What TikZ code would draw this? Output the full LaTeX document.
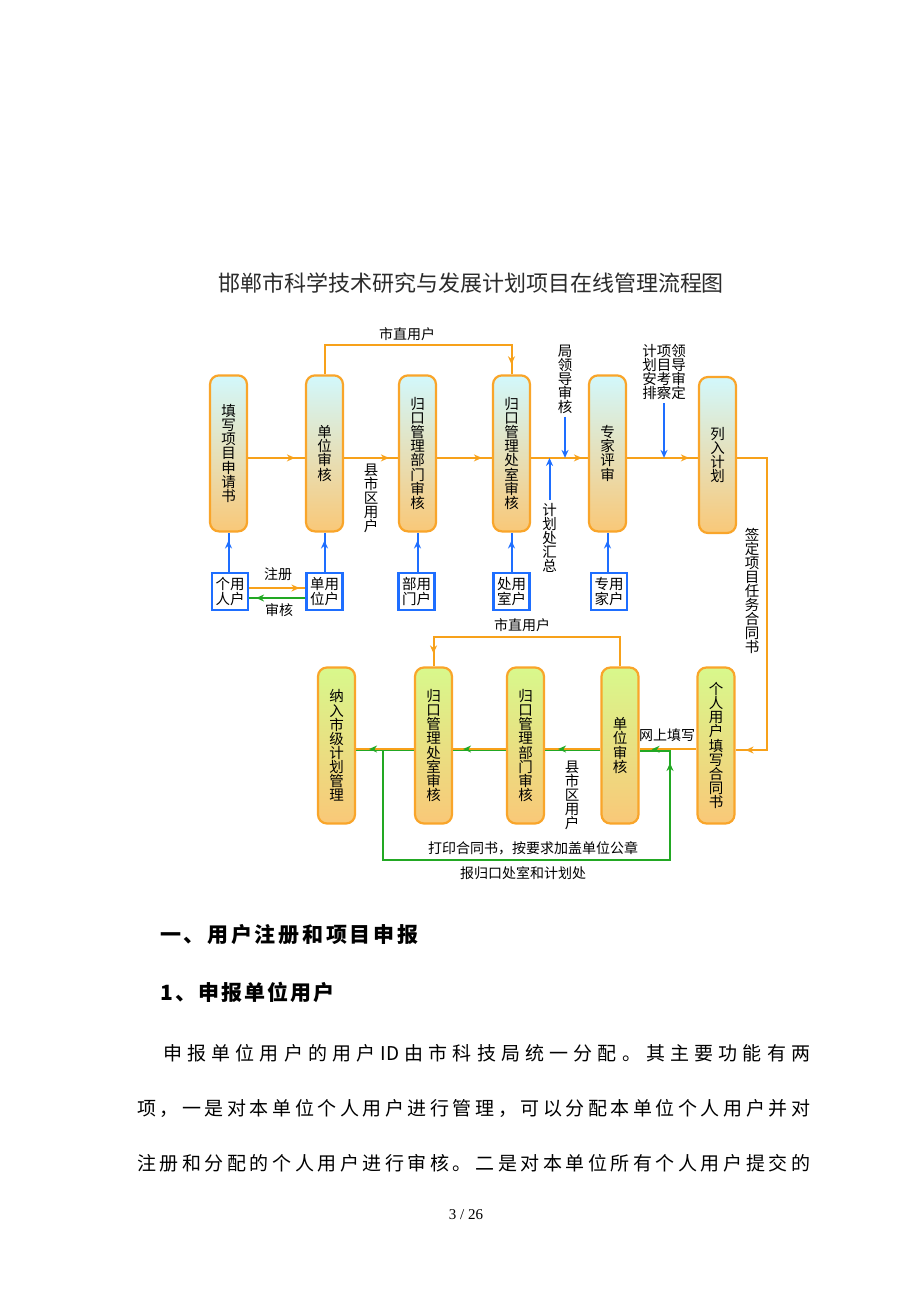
\documentclass[tikz,border=0pt]{standalone}
\usepackage{fontspec}
\setmainfont{Noto Sans CJK SC}
\newfontfamily\serifl{Liberation Serif}
\usetikzlibrary{decorations.markings,arrows.meta,calc}
\definecolor{orn}{HTML}{F7A11A}
\definecolor{bord}{HTML}{F9A52A}
\definecolor{cyl}{HTML}{D2F8FC}
\definecolor{orl}{HTML}{F9C878}
\definecolor{gyl}{HTML}{D8F88C}
\definecolor{blu}{HTML}{1E6EFF}
\definecolor{grn}{HTML}{22A823}
\definecolor{titleg}{HTML}{2B2B2B}
\makeatletter
\newcommand\spreadtext[2]{\hbox to #1{\let\sp@sep\relax\@tfor\sp@c:=#2\do{\sp@sep\sp@c\def\sp@sep{\hfil}}}}
\makeatother
\begin{document}
\begin{tikzpicture}[x=1pt,y=-1pt,
  topbox/.style={rectangle, rounded corners=9pt, draw=bord, line width=2.2pt, top color=cyl, bottom color=orl, minimum width=37pt, minimum height=156pt, inner sep=0pt, align=center, font=\fontsize{14.5}{14.1}\selectfont},
  botbox/.style={topbox, top color=gyl, bottom color=orl},
  ubox/.style={draw=blu, line width=2.2pt, fill=white, minimum width=36pt, minimum height=37pt, inner sep=0pt, align=center, font=\fontsize{14.5}{15}\selectfont},
  lbl/.style={inner sep=0pt, font=\fontsize{14}{14}\selectfont},
  vlbl/.style={inner sep=0pt, align=center, font=\fontsize{14.5}{14}\selectfont},
  oline/.style={draw=orn, line width=2pt},
  bline/.style={draw=blu, line width=2pt},
  gline/.style={draw=grn, line width=2pt},
  arrat/.style={postaction={decorate}, decoration={markings, mark=at position #1 with {\arrow{Stealth[length=8pt,width=7pt]}}}},
  garrat/.style={postaction={decorate}, decoration={markings, mark=at position #1 with {\arrow[color=grn]{Stealth[length=8pt,width=7pt]}}}},
  btip/.style={-{Stealth[length=8pt,width=7pt]}}
]
\fill[white] (0,0) rectangle (920,1302);
\useasboundingbox (0,0) rectangle (920,1302);

% title
\node[font=\fontsize{22}{24}\selectfont, text=titleg, inner sep=0pt] (title) at (471,283) {邯郸市科学技术研究与发展计划项目在线管理流程图};

% top row
\node[topbox] (b1) at (228.5,453.4) {填\\写\\项\\目\\申\\请\\书};
\node[topbox] (b2) at (324.5,453.4) {单\\位\\审\\核};
\node[topbox] (b3) at (417.5,453.4) {归\\口\\管\\理\\部\\门\\审\\核};
\node[topbox] (b4) at (511.5,453.4) {归\\口\\管\\理\\处\\室\\审\\核};
\node[topbox] (b5) at (607.5,453.4) {专\\家\\评\\审};
\node[topbox] (b6) at (717.5,455) {列\\入\\计\\划};

% user boxes
\node[ubox] (u1) at (230,591.5) {个用\\人户};
\node[ubox] (u2) at (324.5,591.5) {单用\\位户};
\node[ubox] (u3) at (416.5,591.5) {部用\\门户};
\node[ubox] (u4) at (511.5,591.5) {处用\\室户};
\node[ubox] (u5) at (609,591.5) {专用\\家户};

\draw[bline, arrat=-8pt] (b1.south |- u1.north) -- (b1.south);
\draw[bline, arrat=-8pt] (b2.south |- u2.north) -- (b2.south);
\draw[bline, arrat=-8pt] (b3.south |- u3.north) -- (b3.south);
\draw[bline, arrat=-8pt] (b4.south |- u4.north) -- (b4.south);
\draw[bline, arrat=-8pt] (b5.south |- u5.north) -- (b5.south);

\draw[oline, arrat=-6pt] ([yshift=3.5pt]u1.east) -- ([yshift=3.5pt]u2.west);
\draw[gline, arrat=-7pt] ([yshift=-6.5pt]u2.west) -- ([yshift=-6.5pt]u1.east);
\node[lbl] (lzc) at (278,574) {注册};
\node[lbl] (lsh) at (279,610) {审核};

% top bypass
\coordinate (t1) at (324.5,345);
\coordinate (t2) at (511.5,345);
\draw[oline, arrat=-10pt] (b2.north) -- (t1) -- (t2) -- (b4.north);
\node[lbl] (lszt) at (407,334) {市直用户};

% main line
\draw[oline, arrat=-10pt] ([yshift=-4.5pt]b1.east) coordinate (m1) -- (m1 -| b2.west);
\draw[oline, arrat=-9pt] ([yshift=-4.5pt]b2.east) coordinate (m2) -- (m2 -| b3.west);
\draw[oline, arrat=-10pt] ([yshift=-4.5pt]b3.east) coordinate (m3) -- (m3 -| b4.west);
\draw[oline, arrat=-6pt] ([yshift=-4.5pt]b4.east) coordinate (m4) -- (m4 -| b5.west);
\draw[oline, arrat=-9pt] ([yshift=-4.5pt]b5.east) coordinate (m5) -- (m5 -| b6.west);

\node[vlbl] (lxq1) at (371,498) {县\\市\\区\\用\\户};
\node[vlbl] (lld) at (565,379) {局\\领\\导\\审\\核};
\draw[bline, btip] ([yshift=-3pt]lld.south) -- (lld.south |- m4);
\node[vlbl] (lhz) at (549.5,538) {计\\划\\处\\汇\\总};
\draw[bline, btip] ([yshift=3pt]lhz.north) -- (lhz.north |- m4);
\node[vlbl] (lap) at (664,371.5) {计项领\\划目导\\安考审\\排察定};
\draw[bline, btip] ([yshift=-4pt]lap.south) -- (lap.south |- m5);

% right connector
\coordinate (r1) at (767,458);
\coordinate (r2) at (767,750);
\node[vlbl] (lqd) at (752,591) {签\\定\\项\\目\\任\\务\\合\\同\\书};

% bottom row
\node[botbox] (c1) at (336.5,745.5) {纳\\入\\市\\级\\计\\划\\管\\理};
\node[botbox] (c2) at (433.5,745.5) {归\\口\\管\\理\\处\\室\\审\\核};
\node[botbox] (c3) at (525.5,745.5) {归\\口\\管\\理\\部\\门\\审\\核};
\node[botbox] (c4) at (620,745.5) {单\\位\\审\\核};
\node[botbox] (c5) at (716,745.5) {个\\人\\用\\户\\填\\写\\合\\同\\书};

\draw[oline, arrat=-10pt] ([yshift=-3pt]b6.east) -- (r1) -- (r2) -- (r2 -| c5.east);

% bottom line
\coordinate (g1) at (383,750);
\coordinate (g2) at (383,860);
\coordinate (g3) at (670,860);
\coordinate (g4) at (670,750);
\draw[grn, line width=1.5pt] (g4 |- 0,751) -- (c4.east |- 0,751);
\draw[grn, line width=1.5pt] ([yshift=-5pt]c4.west) coordinate (h4) -- (h4 -| c3.east);
\draw[grn, line width=1.5pt] ([yshift=-5pt]c3.west) coordinate (h3) -- (h3 -| c2.east);
\draw[grn, line width=1.5pt] ([yshift=-5pt]c2.west) coordinate (h2) -- (h2 -| c1.east);
\draw[orn, line width=1.8pt, garrat=-12pt] ([yshift=-3.8pt]c5.west) coordinate (n5) -- (n5 -| c4.east);
\draw[orn, line width=1.5pt, garrat=-13pt] ([yshift=-3.5pt]c4.west) coordinate (n4) -- (n4 -| c3.east);
\draw[orn, line width=1.5pt, garrat=-10pt] ([yshift=-3.5pt]c3.west) coordinate (n3) -- (n3 -| c2.east);
\draw[orn, line width=1.5pt, garrat=-13pt] ([yshift=-3.5pt]c2.west) coordinate (n2) -- (n2 -| c1.east);
\draw[gline, arrat=-13pt] (g1) -- (g2) -- (g3) -- (g4);

% bottom bypass
\coordinate (k1) at (620,637);
\coordinate (k2) at (433.5,637);
\draw[oline, arrat=-13pt] (c4.north) -- (k1) -- (k2) -- (c2.north);
\node[lbl] (lszb) at (522,625) {市直用户};
\node[vlbl] (lxq2) at (572,795) {县\\市\\区\\用\\户};
\node[lbl] (lws) at (667,735) {网上填写};
\node[lbl] (ldy) at (533,848) {打印合同书，按要求加盖单位公章};
\node[lbl] (lbg) at (523,873) {报归口处室和计划处};

% text section
\node[anchor=west, inner sep=0pt, font=\bfseries\fontsize{21}{24}\selectfont] (h1) at (160,935) {\spreadtext{258pt}{一、用户注册和项目申报}};
\node[anchor=west, inner sep=0pt, font=\bfseries\fontsize{21}{24}\selectfont] (h2) at (160,992) {\spreadtext{174pt}{1、申报单位用户}};
\node[anchor=west, inner sep=0pt, font=\fontsize{19}{22}\selectfont] (p1) at (163,1053) {\spreadtext{647pt}{申报单位用户的用户{ID}由市科技局统一分配。其主要功能有两}};
\node[anchor=west, inner sep=0pt, font=\fontsize{19}{22}\selectfont] (p2) at (137,1108) {\spreadtext{673pt}{项，一是对本单位个人用户进行管理，可以分配本单位个人用户并对}};
\node[anchor=west, inner sep=0pt, font=\fontsize{19}{22}\selectfont] (p3) at (137,1163) {\spreadtext{673pt}{注册和分配的个人用户进行审核。二是对本单位所有个人用户提交的}};
\node[inner sep=0pt, font=\serifl\fontsize{15}{18}\selectfont] (pg) at (466,1215) {3 / 26};
\end{tikzpicture}
\end{document}
